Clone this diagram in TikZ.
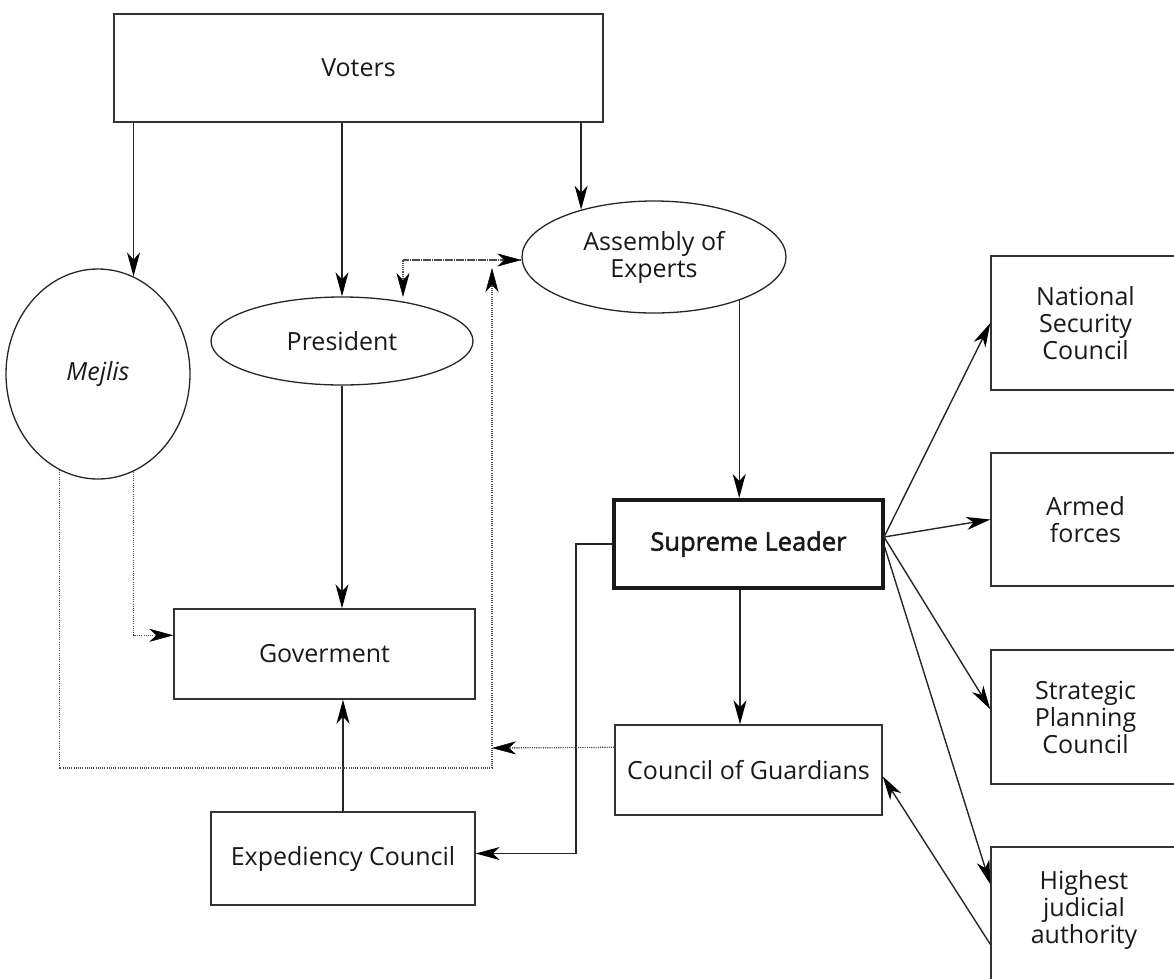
\documentclass[tikz,border=0pt]{standalone}
\usepackage{fontspec}
\setmainfont{Open Sans}
\newfontfamily\slfont[FakeBold=2]{Open Sans}
\usetikzlibrary{shapes.geometric,arrows.meta}
\begin{document}
\begin{tikzpicture}[x=1pt,y=-1pt,
  every node/.style={font=\fontsize{25}{27}\selectfont, text=black!90, align=center, inner sep=0pt},
  box/.style={draw=black!80, line width=1.4pt, rectangle},
  oval/.style={draw=black!85, line width=1.3pt, ellipse},
  arr/.style={draw=black!85, line width=1.4pt, -{Stealth[length=24pt,width=13pt,inset=7pt,color=black]}},
  dotline/.style={draw=black!70, line width=1.3pt, dash pattern=on 1.1pt off 1.1pt},
  dotarr/.style={dotline, -{Stealth[length=24pt,width=13pt,inset=7pt,color=black,line width=0.5pt]}}]
\useasboundingbox (0,0) rectangle (1174,978);

% boxes
\node[box, minimum width=489pt, minimum height=108pt] (voters) at (358.5,68) {Voters};
\node[box, minimum width=301pt, minimum height=90pt] (gov) at (324.5,654) {Goverment};
\node[box, minimum width=264pt, minimum height=93pt] (exp) at (343,858.5) {Expediency Council};
\node[draw=black!90, line width=4pt, rectangle, minimum width=269pt, minimum height=88pt, font=\slfont\fontsize{25.5}{27}\selectfont] (sl) at (748.5,544) {Supreme Leader};
\node[box, minimum width=267pt, minimum height=90pt] (cog) at (748.5,770) {Council of Guardians};
\node[box, minimum width=189pt, minimum height=134pt] (nsc) at (1085.5,323) {National\\Security\\Council};
\node[box, minimum width=189pt, minimum height=133pt] (arm) at (1085.5,519.5) {Armed\\forces};
\node[box, minimum width=189pt, minimum height=134pt] (spc) at (1085.5,717) {Strategic\\Planning\\Council};
\node[box, minimum width=189pt, minimum height=140pt] (hja) at (1085.5,917) {};
\node (hjatxt) at (1084,910) {Highest\\judicial\\authority};

% ellipses
\node[oval, minimum width=184pt, minimum height=210pt] (mej) at (98,374) {\itshape Mejlis};
\node[oval, minimum width=262pt, minimum height=88pt] (pres) at (342,341) {President};
\node[oval, minimum width=264pt, minimum height=112pt] (asm) at (654,257) {Assembly of\\Experts};

% solid connectors
\draw[arr] (mej.70 |- voters.south) -- (mej.70);
\draw[arr] (pres.north |- voters.south) -- (pres.north);
\draw[arr] (asm.147 |- voters.south) -- (asm.147);
\draw[arr] (asm.-27) -- (asm.-27 |- sl.north);
\draw[arr] ([xshift=-8.5pt]sl.south) -- ([xshift=-8.5pt]sl.south |- cog.north);
\draw[arr] (pres.south) -- (pres.south |- gov.north);
\draw[arr] (exp.north) -- (exp.north |- gov.south);
\draw[arr] (sl.west) -- ++(-36,0) |- ([yshift=5pt]exp.east);

\coordinate (fan) at (884,537);
\draw[arr] (fan) -- (nsc.west);
\draw[arr] (fan) -- (arm.west);
\draw[arr] (fan) -- ([yshift=-60pt]spc.north west);
\draw[arr] ([yshift=-8pt]fan) -- ([yshift=-38pt]hja.north west);
\draw[arr] ([yshift=-98pt]hja.north west) -- ([yshift=-52pt]cog.north east);

% dotted connectors
\coordinate (loopc) at (492,768);
\coordinate (uptip) at (492,268);
\coordinate (lefttip) at (492,748);
\coordinate (pcorner) at (403,260);
\draw[dotarr] (mej.-112) |- (loopc) -- (uptip);
\draw[dotarr] (mej.-70) |- ([yshift=-27pt]gov.north west);
\draw[dotarr] ([yshift=-23pt]cog.north west) -- (lefttip);
\draw[dotarr] (pcorner -| asm.west) -- (pcorner) -- (pcorner |- pres.62);
\draw[dotarr] (pcorner) -- (pcorner -| asm.west);
\end{tikzpicture}
\end{document}
